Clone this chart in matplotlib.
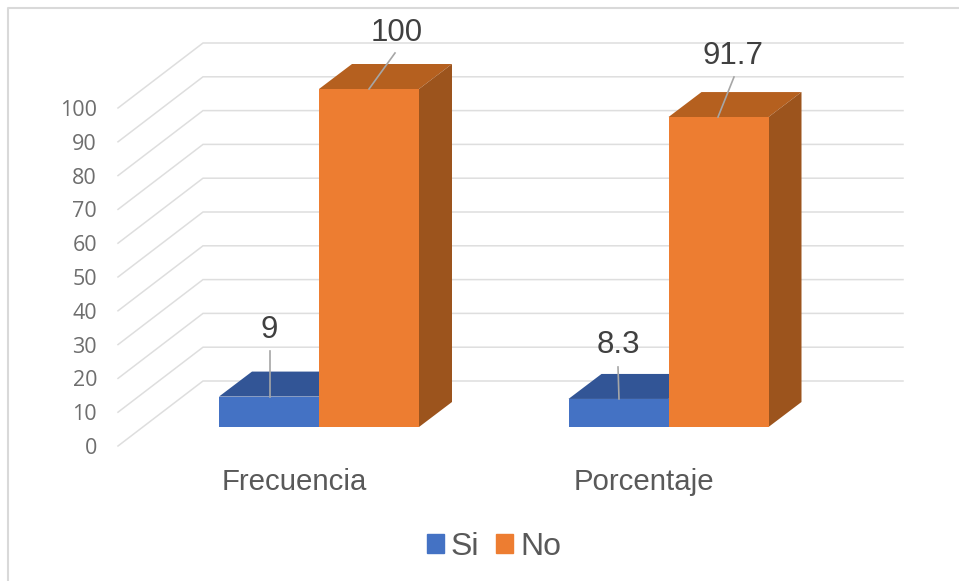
import matplotlib
matplotlib.use("Agg")
import matplotlib.pyplot as plt
from matplotlib.patches import Patch, Polygon

# chart data
categories = ['Frecuencia', 'Porcentaje']
si_values = [9, 8.3]
no_values = [100, 91.7]
si_labels = ['9', '8.3']
no_labels = ['100', '91.7']
y_ticks = [0, 10, 20, 30, 40, 50, 60, 70, 80, 90, 100]

plt.rcParams['font.family'] = ['Liberation Sans', 'DejaVu Sans']

# layout, x axis is in pixels of the picture, y axis is in chart units
W, H = 959, 581
PX_PER_UNIT = 3.38
BASE_PX = 427
GROUP_X = [319, 668.5]
BAR_W = 100
DEPTH_X, DEPTH_Y = 33, 25 / PX_PER_UNIT
WALL_X0, WALL_X1, WALL_END = 118, 203, 903
WALL_RISE = 65 / PX_PER_UNIT
FLOOR_DROP = 19 / PX_PER_UNIT

BLUE, BLUE_TOP = '#4472C4', '#325596'
ORANGE, ORANGE_TOP, ORANGE_SIDE = '#ED7D31', '#B5601F', '#9C541D'
GRID = '#DEDEDE'


def px(p):
    # picture row to chart units
    return (BASE_PX - p) / PX_PER_UNIT


fig = plt.figure(figsize=(W / 100, H / 100), dpi=100)
ax = fig.add_axes([0, 0, 1, 1])
ax.set_xlim(0, W)
ax.set_ylim(px(H), px(0))
ax.axis('off')

# frame of the chart area, only left and top show
ax.plot([8, 8, W], [px(H), px(8), px(8)], color='#D9D9D9', lw=1.5, zorder=1)

# walls
for t in y_ticks:
    front = t - FLOOR_DROP
    back = front + WALL_RISE
    ax.plot([WALL_X0, WALL_X1, WALL_END], [front, back, back],
            color=GRID, lw=1.1, zorder=1, solid_joinstyle='miter')
    ax.text(97, front, str(t), ha='right', va='center_baseline', fontsize=15.5,
            color='#6E6E6E', family=['Open Sans', 'DejaVu Sans'])


def draw_bar(x0, value, front, top, side=None):
    ax.bar(x0 + BAR_W / 2, value, width=BAR_W, color=front, zorder=3)
    ax.add_patch(Polygon([(x0, value), (x0 + BAR_W, value),
                          (x0 + BAR_W + DEPTH_X, value + DEPTH_Y),
                          (x0 + DEPTH_X, value + DEPTH_Y)],
                         closed=True, color=top, lw=0, zorder=2.5))
    if side is not None:
        ax.add_patch(Polygon([(x0 + BAR_W, 0), (x0 + BAR_W + DEPTH_X, DEPTH_Y),
                              (x0 + BAR_W + DEPTH_X, value + DEPTH_Y),
                              (x0 + BAR_W, value)],
                             closed=True, color=side, lw=0, zorder=2.5))


for gx, si, no in zip(GROUP_X, si_values, no_values):
    draw_bar(gx - BAR_W, si, BLUE, BLUE_TOP)
    draw_bar(gx, no, ORANGE, ORANGE_TOP, ORANGE_SIDE)

# value labels with their leader lines
LEADER = '#A6A6A6'
si_leader_x = [(269.5, 269.5), (619, 618)]
si_leader_top = [351, 367]
si_text = [(269.5, 330), (618, 345)]
no_leader_x = [(369, 395), (718, 734)]
no_leader_top = [53, 77]
no_text = [(397, 33), (733, 56)]

for i in range(2):
    ax.plot(si_leader_x[i], [si_values[i], px(si_leader_top[i])],
            color=LEADER, lw=1.2, zorder=4)
    ax.text(si_text[i][0], px(si_text[i][1]), si_labels[i], ha='center',
            va='center', fontsize=22.5, color='#404040', zorder=5)
    ax.plot(no_leader_x[i], [no_values[i], px(no_leader_top[i])],
            color=LEADER, lw=1.2, zorder=4)
    ax.text(no_text[i][0], px(no_text[i][1]), no_labels[i], ha='center',
            va='center', fontsize=22.5, color='#404040', zorder=5)

# category labels
for gx, name in zip(GROUP_X, categories):
    ax.text(gx - 25, px(482), name, ha='center', va='center', fontsize=21.2,
            color='#595959')

# legend
handles = [Patch(color=BLUE, label='Si'), Patch(color=ORANGE, label='No')]
ax.legend(handles=handles, ncol=2, loc='center', frameon=False,
          bbox_to_anchor=(494 / W, 1 - 547 / H), fontsize=23,
          labelcolor='#595959', handlelength=0.53, handleheight=0.53,
          handletextpad=0.22, columnspacing=0.53)

fig.savefig('out.png', dpi=100)
